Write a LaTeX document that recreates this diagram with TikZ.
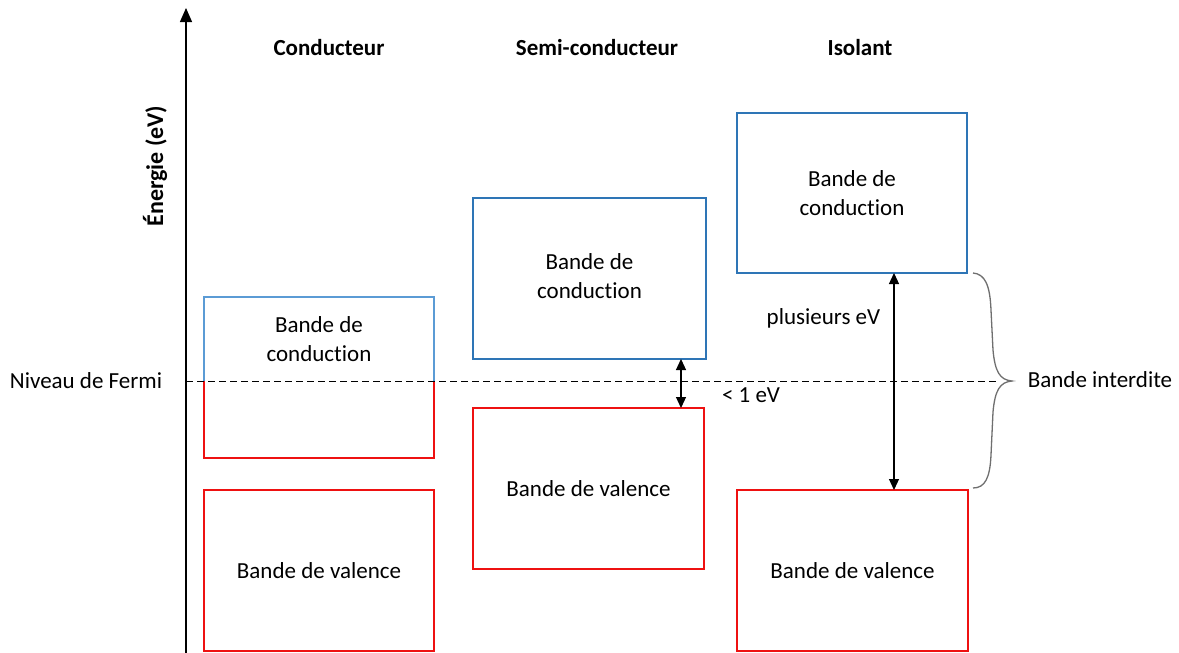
\documentclass[tikz,border=0pt]{standalone}
\usepackage{fontspec}
\setmainfont{Carlito}[Ligatures={NoCommon,NoRequired}]
\usetikzlibrary{arrows.meta}
\definecolor{bandblue}{HTML}{2E75B6}
\definecolor{lightblue}{HTML}{5B9BD5}
\definecolor{bandred}{HTML}{EE1111}
\definecolor{bracegray}{HTML}{6F6F6F}
\begin{document}
\begin{tikzpicture}[x=1pt,y=-1pt,
  font=\fontsize{23}{29}\selectfont,
  band/.style={minimum width=230pt, minimum height=161pt, outer sep=0pt, inner sep=0pt, align=center, line width=2pt},
  cb/.style={band, draw=bandblue},
  vb/.style={band, draw=bandred},
  title/.style={font=\fontsize{23}{29}\selectfont\bfseries},
  gap/.style={{Triangle[width=10pt,length=11pt]}-{Triangle[width=10pt,length=11pt]}, line width=1.2pt},
  edge2/.style={line width=2pt}]
\useasboundingbox (0,0) rectangle (1179,653);

% axis
\coordinate (axbot) at (186,653);
\coordinate (axtop) at (186,8);
\draw[-{Triangle[width=12pt,length=14pt]}, line width=1.3pt] (axbot) -- (axtop);
\node[title, rotate=90, font=\fontsize{24}{29}\selectfont\bfseries] (energie) at (155,166) {Énergie (eV)};

% titles
\node[title] (tcond) at (329,48) {Conducteur};
\node[title] (tsemi) at (597,48) {Semi-conducteur};
\node[title] (tiso) at (860,48) {Isolant};

% conductor
\node[band, minimum height=84pt] (ccu) at (319,339) {Bande de\\conduction};
\node[band, minimum height=77pt] (ccl) at (319,419.5) {};
\draw[lightblue, edge2] (ccu.south west) -- (ccu.north west) -- (ccu.north east) -- (ccu.south east);
\draw[bandred, edge2] (ccl.north west) -- (ccl.south west) -- (ccl.south east) -- (ccl.north east);
\node[vb] (cv) at (319,570.5) {Bande de valence};

% semiconductor
\node[cb, minimum width=233pt] (sc) at (589.5,278.5) {\raisebox{6pt}{\begin{tabular}{@{}c@{}}Bande de\\conduction\end{tabular}}};
\node[vb, minimum width=231pt] (sv) at (588.5,488.5) {Bande de valence};

% insulator
\node[cb, minimum height=160pt] (ic) at (852,193) {Bande de\\conduction};
\node[vb, minimum width=231pt] (iv) at (852.5,570.5) {Bande de valence};

% Fermi level
\coordinate (f0) at (186,381);
\coordinate (f1) at (998,381);
\draw[dash pattern=on 7pt off 4pt, line width=1pt] (f0) -- (f1);
\node (fermi) at (86,381) {Niveau de Fermi};

% gaps
\coordinate (sa) at (681,0);
\draw[gap] (sc.south -| sa) -- (sv.north -| sa);
\node (lt) at (751,395) {< 1 eV};
\coordinate (ia) at (894,0);
\draw[gap] (ic.south -| ia) -- (iv.north -| ia);
\node (plus) at (823.5,318) {plusieurs eV};

% brace
\coordinate (bt) at (973,273);
\coordinate (bb) at (973,488);
\coordinate (btip) at (1012,381);
\draw[bracegray, line width=1.3pt] (bt) .. controls (985,274) and (990,285) .. (991,310) -- (993,350) .. controls (995,372) and (1000,380) .. (btip) .. controls (1000,382) and (995,390) .. (993,412) -- (991,455) .. controls (990,478) and (985,488) .. (bb);
\node (interdite) at (1100,380) {Bande interdite};
\end{tikzpicture}
\end{document}
